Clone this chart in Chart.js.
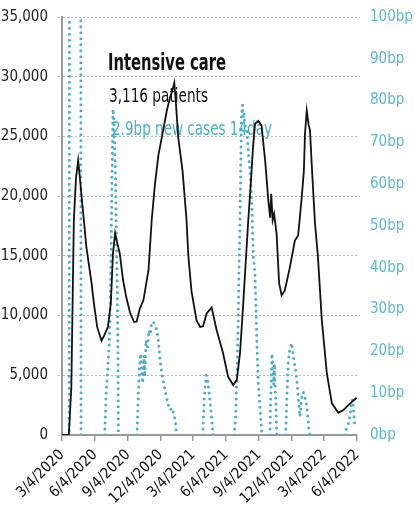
<!DOCTYPE html>
<html>
<head>
<meta charset="utf-8">
<script src="https://cdn.jsdelivr.net/npm/chart.js@4.4.1/dist/chart.umd.min.js"></script>
<style>
    html, body { margin: 0; padding: 0; background: #fff; }
    #wrap { width: 415px; height: 529px; }
</style>
</head>
<body>
<div id="wrap"><canvas id="icuChart" width="415" height="529"></canvas></div>
<script>
// days counted from 3/4/2020
const tickDays = [0, 92, 184, 275, 365, 457, 549, 640, 730, 822];
const tickLabels = ['3/4/2020', '6/4/2020', '9/4/2020', '12/4/2020', '3/4/2021', '6/4/2021', '9/4/2021', '12/4/2021', '3/4/2022', '6/4/2022'];

// intensive care patients
const icuDays = [0, 19, 26, 33, 39, 45, 50, 56, 61, 68, 82, 89, 98, 110, 117, 128, 136, 142, 148, 153, 161, 170, 179, 190, 201, 208, 217, 227, 241, 250, 259, 269, 278, 292, 301, 307, 313, 318, 324, 336, 347, 352, 361, 375, 385, 393, 403, 417, 431, 440, 449, 463, 477, 487, 496, 505, 513, 519, 527, 532, 538, 547, 556, 566, 575, 580, 583, 587, 591, 598, 605, 612, 621, 635, 649, 658, 668, 674, 677, 682, 687, 691, 697, 705, 713, 724, 738, 752, 770, 784, 803, 821];
const icuPatients = [0, 0, 4000, 18000, 21500, 23000, 21500, 19500, 18000, 15700, 12800, 11000, 9050, 7900, 8300, 9050, 11000, 15200, 16900, 16200, 15200, 13000, 11550, 10200, 9460, 9500, 10600, 11300, 13800, 18000, 21000, 23500, 24900, 27150, 28260, 28800, 29500, 27500, 24900, 22100, 18000, 15000, 12000, 9600, 9050, 9100, 10170, 10670, 8770, 7800, 6820, 4870, 4180, 4600, 6850, 11000, 15000, 17960, 21500, 24000, 26060, 26300, 25900, 23000, 19600, 18200, 20200, 18000, 18500, 16850, 12700, 11700, 12100, 14060, 16290, 16700, 19900, 22140, 25200, 27150, 26000, 25500, 22000, 17700, 15000, 9600, 5150, 2650, 1860, 2090, 2650, 3116];

// new cases over 14 days, basis points (null = no value)
const caseDays = [0, 20, 21, 52, 53, 80,
    119, 122, 126, 132, 135, 137, 139, 142, 145, 149, 151, 154, 156, 157, 180,
    209, 212, 216, 219, 222, 225, 228, 231, 234, 238, 242, 246, 250, 255, 259, 264, 268, 273, 278, 287, 296, 302, 306, 310, 315, 320, 350,
    392, 395, 398, 402, 406, 410, 414, 417, 421, 450,
    480, 484, 487, 491, 493, 496, 498, 500, 503, 505, 507, 510, 515, 520, 524, 529, 533, 538, 543, 547, 553, 557, 570,
    579, 582, 585, 588, 590, 592, 594, 596, 598, 610,
    623, 626, 630, 635, 640, 646, 651, 656, 661, 663, 668, 672, 679, 683, 688, 691, 750,
    788, 793, 797, 802, 807, 810, 815];
const caseBp = [0, 0, 150, 150, 0, null,
    0, 8, 14, 22, 35, 45, 60, 78, 75, 62, 51, 35, 19, 0, null,
    0, 8, 16.7, 19.5, 15, 12.4, 19, 14, 22.7, 21, 25, 24, 27, 27, 26.5, 25, 23, 18, 14.8, 10.7, 7.2, 6, 6.5, 5.5, 3.6, 0, null,
    0, 6, 11, 14.3, 13, 10, 7, 4, 0, null,
    0, 5, 13, 27, 39, 51, 65, 76, 79, 76, 77, 74, 73, 67, 63, 55, 43, 38, 22, 12, 5, 0, null,
    0, 10, 19.5, 15, 12, 17, 11, 8, 0, null,
    0, 7, 17, 20.7, 22, 18, 15.5, 11.5, 6, 4.4, 9, 10.3, 8.4, 6, 1.2, 0, null,
    0, 1.7, 2.4, 4.4, 7.6, 8.5, 2.9];

const narrow = "'DejaVu Sans Condensed', 'Liberation Sans', sans-serif";
const teal = '#4bafcb';

// squeeze text to a given width so it looks like the condensed face of the original
function squeezeText(ctx, text, x, y, width) {
    const w = ctx.measureText(text).width;
    ctx.save();
    ctx.translate(x, y);
    ctx.scale(Math.min(1, width / w), 1);
    ctx.fillText(text, 0, 0);
    ctx.restore();
}

const labelPlugin = {
    id: 'labelPlugin',
    beforeDatasetsDraw(chart) {
        const ctx = chart.ctx;
        const lastIcu = icuPatients[icuPatients.length - 1];
        const lastBp = caseBp[caseBp.length - 1];
        ctx.save();
        ctx.textAlign = 'left';
        ctx.textBaseline = 'alphabetic';
        ctx.fillStyle = '#111';
        ctx.font = 'bold 23px ' + narrow;
        squeezeText(ctx, 'Intensive care', 108, 70, 118);
        ctx.font = '19px ' + narrow;
        squeezeText(ctx, lastIcu.toLocaleString('en-US') + ' patients', 109, 102, 99);
        ctx.fillStyle = teal;
        squeezeText(ctx, lastBp + 'bp new cases 14day', 112, 135, 160);
        ctx.restore();
    }
};

function fixSide(width) {
    return (s) => {
        s.width = width;
        s.paddingTop = 0;
        s.paddingBottom = 0;
    };
}

const ctx = document.getElementById('icuChart').getContext('2d');
const icuChart = new Chart(ctx, {
    type: 'line',
    data: {
        datasets: [
            {
                label: 'Intensive care',
                data: icuDays.map((d, i) => ({x: d, y: icuPatients[i]})),
                yAxisID: 'y',
                borderColor: '#111',
                borderWidth: 1.8,
                pointRadius: 0,
                order: 0
            },
            {
                label: 'New cases 14day',
                data: caseDays.map((d, i) => ({x: d, y: caseBp[i]})),
                yAxisID: 'y2',
                borderColor: teal,
                borderWidth: 3,
                borderDash: [0, 6],
                borderCapStyle: 'round',
                pointRadius: 0,
                spanGaps: false,
                order: 1
            }
        ]
    },
    options: {
        responsive: false,
        animation: false,
        layout: { padding: { top: 17 } },
        plugins: {
            legend: { display: false },
            tooltip: { enabled: false }
        },
        scales: {
            x: {
                type: 'linear',
                min: 0,
                max: 822,
                afterBuildTicks: (s) => { s.ticks = tickDays.map(v => ({value: v})); },
                afterFit: (s) => { s.height = 94; },
                ticks: {
                    autoSkip: false,
                    minRotation: 45,
                    maxRotation: 45,
                    padding: 5,
                    color: '#111',
                    font: { family: narrow, size: 15 },
                    callback: (v, i) => tickLabels[i]
                },
                grid: { drawOnChartArea: false, tickLength: 6, color: '#999', lineWidth: 1.5 },
                border: { color: '#999', width: 2 }
            },
            y: {
                position: 'left',
                min: 0,
                max: 35000,
                afterFit: fixSide(62),
                ticks: {
                    stepSize: 5000,
                    padding: 10,
                    color: '#222',
                    font: { family: narrow, size: 15 },
                    callback: (v) => v.toLocaleString('en-US')
                },
                grid: { color: '#bbb', lineWidth: 1, tickLength: 4, tickBorderDash: [2, 2] },
                border: { color: '#999', width: 2, dash: [2, 2] }
            },
            y2: {
                position: 'right',
                min: 0,
                max: 100,
                afterFit: fixSide(58),
                ticks: {
                    stepSize: 10,
                    padding: 13,
                    color: '#5cb8d3',
                    font: { family: narrow, size: 15 },
                    callback: (v) => v + 'bp'
                },
                grid: { display: false, drawTicks: false },
                border: { display: false }
            }
        }
    },
    plugins: [labelPlugin]
});
</script>
</body>
</html>
